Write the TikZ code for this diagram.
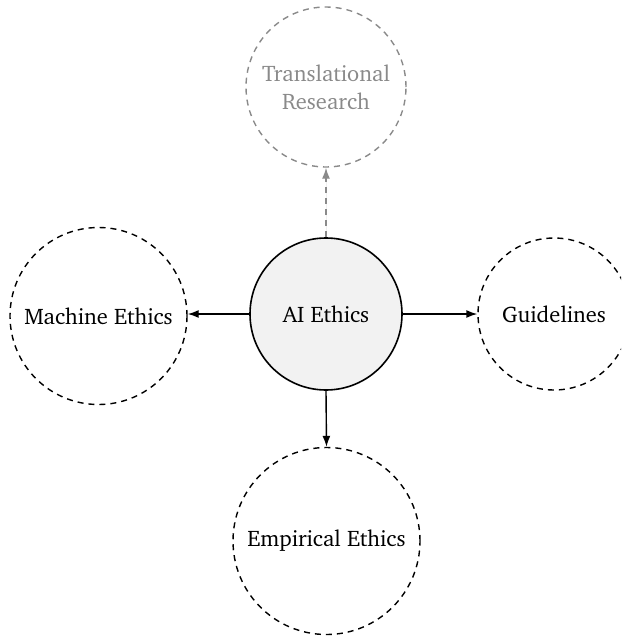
\documentclass[tikz,border=0pt]{standalone}
\usepackage[T1]{fontenc}
\usepackage{charter}
\usetikzlibrary{arrows.meta}
\definecolor{grayline}{HTML}{8A8A8A}
\definecolor{corefill}{HTML}{F2F2F2}
\tikzset{
  topic/.style={circle, draw=black, line width=1.4pt, dash pattern=on 6pt off 5pt, inner sep=0pt, align=center, font=\fontsize{22.5}{28}\selectfont},
  core/.style={circle, draw=black, fill=corefill, line width=1.6pt, inner sep=0pt, align=center, font=\fontsize{22.5}{28}\selectfont},
  faint/.style={draw=grayline, text=grayline},
  link/.style={line width=1.4pt, -{Latex[length=11pt,width=8pt]}},
}
\begin{document}
\begin{tikzpicture}[x=1pt,y=1pt]
\useasboundingbox (0,0) rectangle (621,-637);
\begin{scope}
\clip (0,0) rectangle (621,-637);
\node[core, minimum size=152pt] (ai) at (326,-314) {AI Ethics};
\node[topic, minimum size=177pt] (me) at (98.5,-316) {Machine Ethics};
\node[topic, minimum size=152pt] (gl) at (554,-314) {Guidelines};
\node[topic, minimum size=187pt] (ee) at (326.5,-541) {Empirical Ethics};
\node[topic, faint, minimum size=160pt] (tr) at (326,-87) {Translational\\Research};
\draw[link] (ai.west) -- (me.east |- ai.west);
\draw[link] (ai.east) -- (gl.west);
\draw[link] (ai.south) -- (ee.north);
\draw[link, draw=grayline, fill=grayline, dash pattern=on 6pt off 5pt] (ai.north) -- (tr.south);
\end{scope}
\end{tikzpicture}
\end{document}
